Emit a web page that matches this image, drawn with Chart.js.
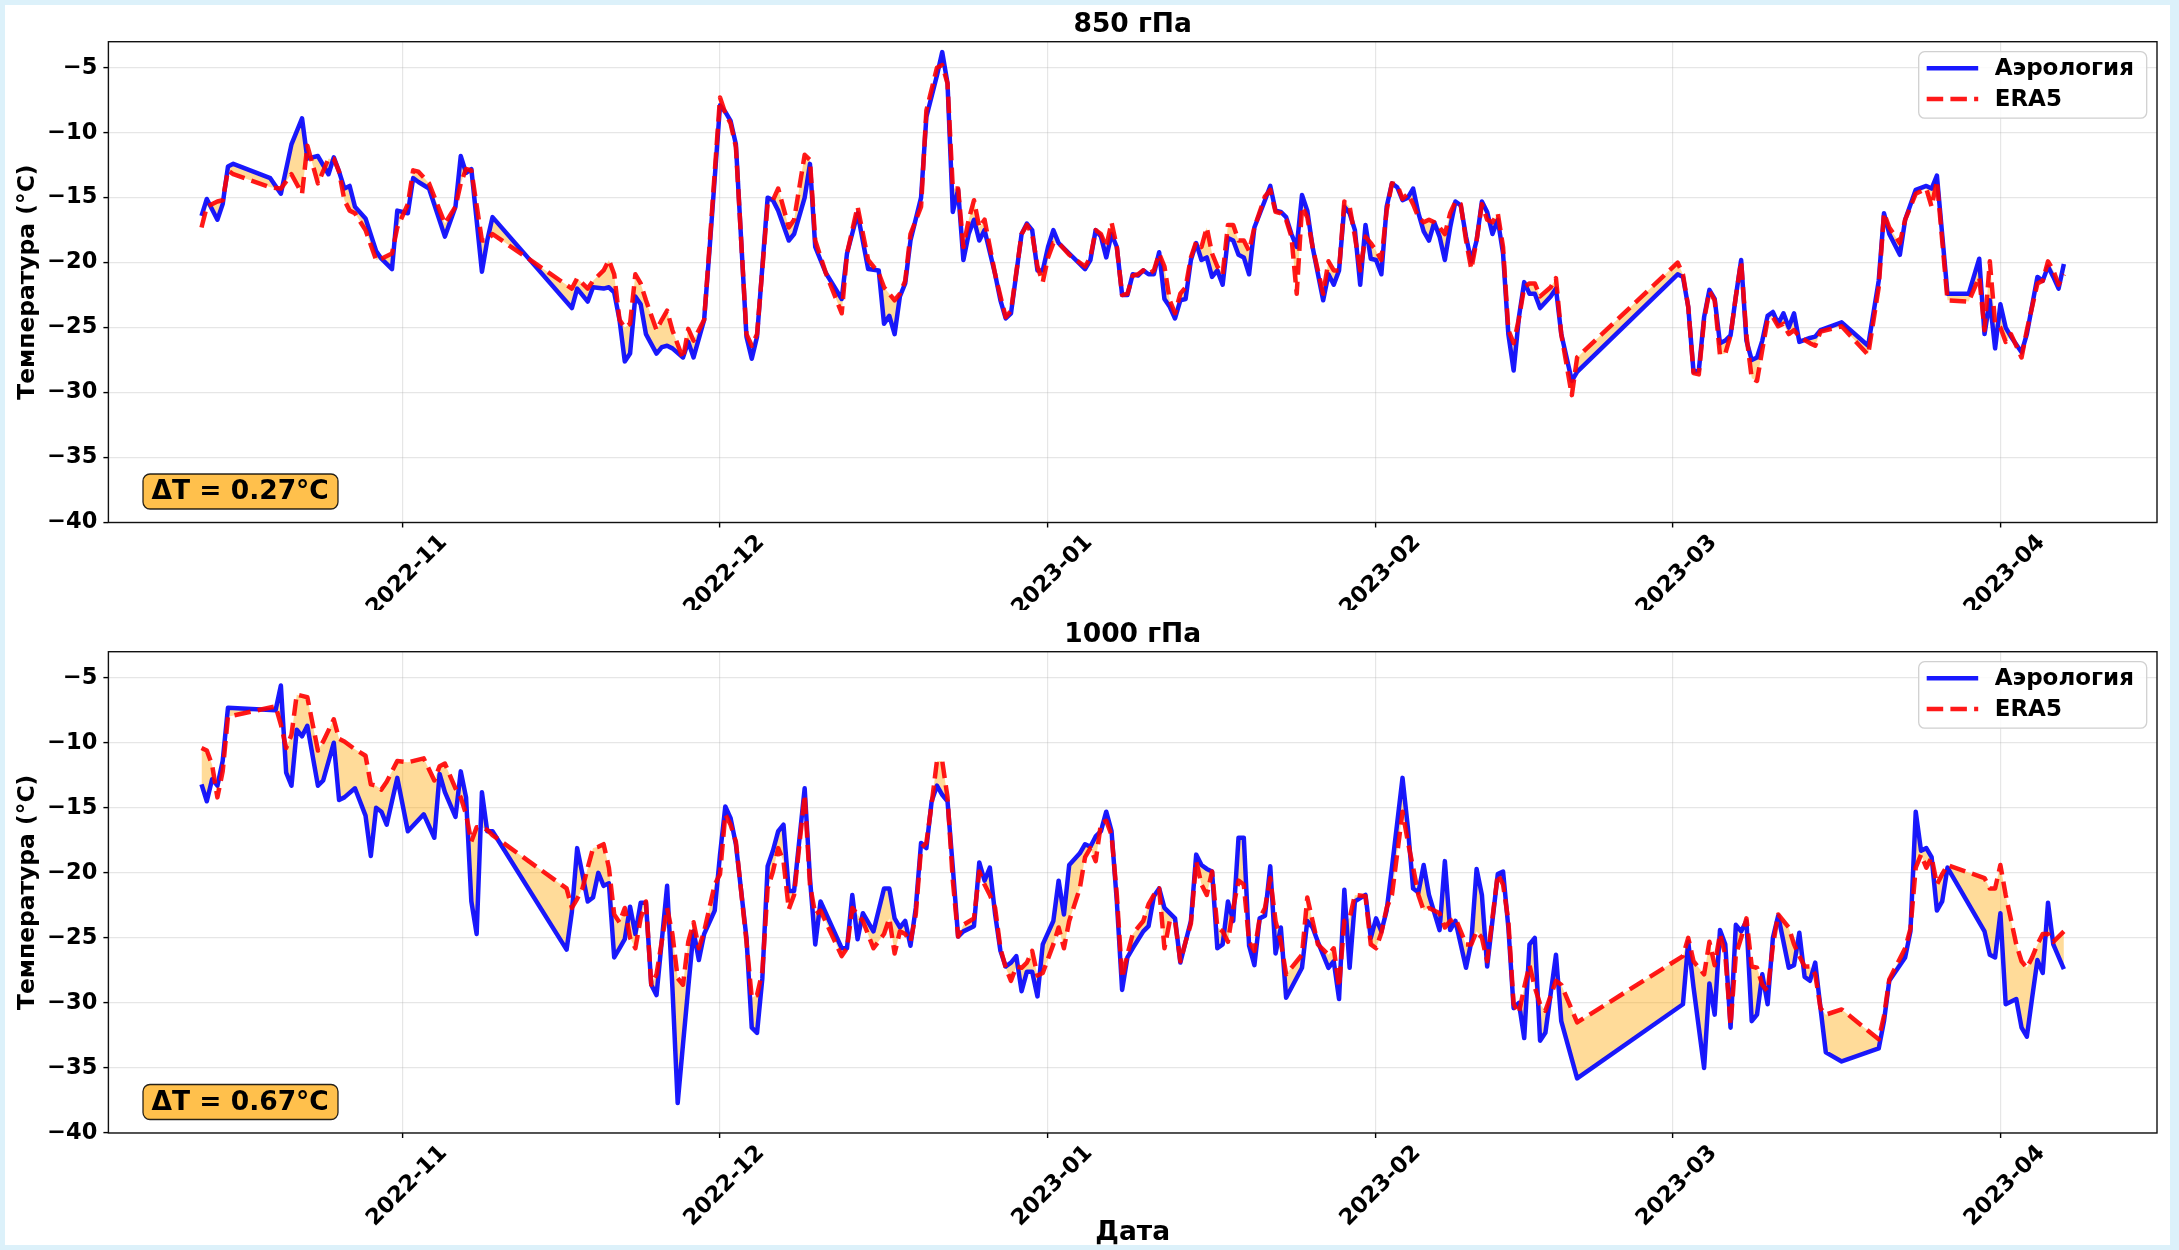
<!DOCTYPE html>
<html lang="ru">
<head>
<meta charset="utf-8">
<title>850 гПа / 1000 гПа</title>
<script src="https://cdn.jsdelivr.net/npm/chart.js@4.4.0/dist/chart.umd.min.js"></script>
<style>
  html, body { margin: 0; padding: 0; background: #dcf1fa; }
  body { width: 2179px; height: 1250px; position: relative; overflow: hidden; }
  #card { position: absolute; left: 5px; top: 5px; width: 2165px; height: 1240px; background: #ffffff; }
  canvas { position: absolute; left: 0; }
  #c850 { top: 0; }
  #c1000 { top: 610px; }
</style>
</head>
<body>
<div id="card"></div>
<canvas id="c850" width="2179" height="610" style="width:2179px;height:610px"></canvas>
<canvas id="c1000" width="2179" height="640" style="width:2179px;height:640px"></canvas>
<script>
// Time axis: days counted from 2022-11-01 00 UTC (soundings every 12 h)
const monthTicks  = [0, 30, 61, 92, 120, 151];
const monthLabels = ['2022-11', '2022-12', '2023-01', '2023-02', '2023-03', '2023-04'];
const tempTicks   = [-40, -35, -30, -25, -20, -15, -10, -5];

// ---- 850 hPa ----
const days850 = [
  -19,-18.5,-17.5,-17,-16.5,-16,-12.5,-11.5,-10.5,-9.5,
  -9,-8,-7,-6.5,-6,-5.5,-5,-4.5,-3.5,-2.5,
  -2,-1,-0.5,0.5,1,1.5,2.5,4,5,5.5,
  6,6.5,7.5,8,8.5,16,16.5,17.5,18,19,
  19.5,20,20.5,21,21.5,22,22.5,23,24,24.5,
  25,25.5,26.5,27,27.5,28.5,29,30,30.5,31,
  31.5,32.5,33,33.5,34.5,35,35.5,36.5,37,38,
  38.5,39,40,41.5,42,43,44,45,45.5,46,
  46.5,47,47.5,48,49,49.5,50.5,51,51.5,52,
  52.5,53,53.5,54,54.5,55,56,56.5,57,57.5,
  58.5,59,59.5,60,60.5,61,61.5,62,63,64.5,
  65,65.5,66,66.5,67,67.5,68,68.5,69,69.5,
  70,70.5,71,71.5,72,72.5,73,73.5,74,74.5,
  75,75.5,76,76.5,77,77.5,78,78.5,79,79.5,
  80,80.5,81.5,82,82.5,83,83.5,84,84.5,85,
  85.5,86,87,87.5,88,88.5,89,89.5,90,90.5,
  91,91.5,92,92.5,93,93.5,94,94.5,95,95.5,
  96,96.5,97,97.5,98,98.5,99,99.5,100,100.5,
  101,101.5,102,102.5,103,103.5,104,104.5,105,105.5,
  106,106.5,107,107.5,108.5,109,109.5,110.5,111,120.5,
  121,121.5,122,122.5,123,123.5,124,124.5,125,125.5,
  126,126.5,127,127.5,128,128.5,129,129.5,130,130.5,
  131,131.5,132,133,133.5,134,136,138.5,139.5,140,
  140.5,141.5,142,143,144,144.5,145,146,148,149,
  149.5,150,150.5,151,151.5,152,153,153.5,154.5,155,
  155.5,156,156.5,157
];
const aero850 = [
  -16.4,-15.1,-16.7,-15.5,-12.6,-12.4,-13.5,-14.7,-10.9,-8.9,
  -12.0,-11.8,-13.2,-11.9,-13.0,-14.3,-14.1,-15.7,-16.6,-19.1,
  -19.7,-20.5,-16.0,-16.2,-13.5,-13.8,-14.3,-18.0,-15.7,-11.8,
  -13.1,-12.8,-20.7,-18.3,-16.5,-23.5,-22.0,-23.0,-21.9,-22.0,
  -21.9,-22.3,-24.4,-27.6,-27.0,-22.6,-23.2,-25.5,-27.0,-26.5,
  -26.4,-26.6,-27.3,-26.1,-27.3,-24.4,-19.1,-7.9,-8.4,-9.1,
  -10.9,-25.7,-27.4,-25.7,-15.0,-15.2,-16.0,-18.3,-17.8,-15.0,
  -12.4,-18.8,-20.8,-22.8,-19.3,-16.2,-20.5,-20.6,-24.7,-24.1,
  -25.5,-22.6,-21.6,-18.3,-15.0,-8.8,-5.6,-3.8,-6.2,-16.1,
  -14.4,-19.8,-17.8,-16.7,-18.3,-17.5,-20.9,-22.9,-24.3,-23.9,
  -17.8,-17.0,-17.5,-20.6,-20.6,-18.8,-17.5,-18.5,-19.3,-20.5,
  -19.8,-17.5,-18.0,-19.6,-17.8,-18.8,-22.5,-22.5,-20.9,-21.0,
  -20.6,-20.9,-20.9,-19.2,-22.8,-23.4,-24.3,-22.9,-22.8,-19.8,
  -18.5,-19.8,-19.6,-21.1,-20.6,-21.7,-18.1,-18.3,-19.4,-19.6,
  -20.9,-17.3,-15.2,-14.1,-16.0,-16.1,-16.5,-17.8,-18.8,-14.8,
  -16.0,-18.8,-22.9,-20.9,-21.7,-20.6,-15.7,-16.2,-17.5,-21.7,
  -17.1,-19.7,-19.8,-20.9,-15.7,-13.9,-14.2,-15.2,-15.0,-14.3,
  -16.2,-17.6,-18.3,-16.9,-18.0,-19.8,-17.3,-15.3,-15.6,-18.0,
  -19.9,-18.3,-15.3,-16.1,-17.8,-16.7,-19.3,-25.5,-28.3,-24.2,
  -21.5,-22.4,-22.4,-23.5,-22.6,-22.0,-25.5,-29.1,-28.4,-20.9,
  -21.1,-23.4,-28.4,-28.3,-24.2,-22.1,-22.8,-26.2,-26.0,-25.6,
  -22.6,-19.8,-26.0,-27.5,-27.3,-26.0,-24.1,-23.8,-24.7,-23.9,
  -25.0,-23.9,-26.1,-25.8,-25.7,-25.2,-24.6,-26.4,-21.4,-16.2,
  -17.8,-19.4,-16.7,-14.4,-14.1,-14.3,-13.3,-22.4,-22.4,-19.7,
  -25.5,-22.9,-26.6,-23.2,-25.0,-25.7,-26.9,-25.5,-21.1,-21.4,
  -20.3,-21.1,-22.0,-20.1
];
const era850 = [
  -17.3,-15.7,-15.3,-15.2,-12.9,-13.2,-14.2,-14.3,-13.2,-14.7,
  -11.0,-13.9,-12.0,-12.0,-13.0,-15.2,-16.0,-16.2,-17.5,-19.8,
  -19.7,-19.3,-17.3,-15.5,-12.9,-13.0,-13.9,-17.0,-15.7,-13.9,
  -12.8,-12.9,-18.3,-18.3,-17.8,-22.0,-21.2,-22.0,-21.4,-20.6,
  -19.8,-20.9,-24.4,-25.0,-24.7,-20.9,-21.6,-22.9,-25.2,-24.4,
  -23.7,-25.2,-27.4,-25.1,-26.0,-24.4,-18.8,-7.3,-8.5,-9.3,
  -11.1,-25.5,-26.4,-25.5,-15.5,-15.2,-14.3,-17.3,-16.7,-11.7,
  -12.1,-18.3,-20.8,-23.9,-19.3,-15.7,-19.8,-20.8,-21.9,-22.4,
  -22.9,-22.4,-21.4,-17.8,-15.7,-8.3,-5.0,-4.8,-6.2,-14.3,
  -14.3,-18.8,-16.7,-15.2,-17.3,-16.7,-20.9,-22.6,-24.2,-23.7,
  -17.8,-17.1,-17.8,-20.3,-21.5,-19.6,-18.5,-18.5,-19.4,-20.3,
  -19.6,-17.5,-17.8,-18.8,-16.9,-18.8,-22.5,-22.4,-21.0,-20.9,
  -20.6,-20.9,-20.6,-19.3,-20.3,-22.9,-23.9,-22.4,-21.9,-19.6,
  -18.4,-18.8,-17.3,-19.3,-20.3,-20.9,-17.1,-17.1,-18.3,-18.3,
  -19.1,-17.3,-14.9,-14.4,-16.1,-16.2,-16.7,-18.0,-22.4,-15.7,
  -16.5,-18.8,-22.4,-19.9,-20.6,-20.6,-15.3,-15.7,-18.0,-20.6,
  -18.0,-18.5,-19.1,-19.8,-16.0,-13.9,-14.0,-15.1,-14.7,-15.5,
  -16.5,-16.9,-16.7,-16.9,-17.3,-17.8,-16.2,-15.3,-15.5,-18.3,
  -20.5,-18.3,-15.5,-16.7,-16.9,-16.2,-18.8,-25.2,-26.2,-24.3,
  -21.9,-21.6,-21.6,-22.6,-21.9,-21.2,-25.5,-30.2,-27.3,-20.0,
  -20.9,-23.4,-28.5,-28.6,-24.4,-22.2,-22.9,-27.1,-27.0,-25.6,
  -22.6,-19.9,-25.6,-28.9,-29.1,-26.7,-24.4,-24.2,-24.9,-24.7,
  -25.5,-25.2,-25.7,-26.2,-26.4,-25.3,-24.9,-27.1,-21.9,-16.2,
  -17.3,-18.5,-16.7,-14.7,-14.3,-15.7,-13.7,-22.9,-23.0,-21.1,
  -25.2,-19.9,-24.7,-25.0,-26.1,-25.5,-27.3,-25.2,-21.6,-21.4,
  -19.9,-20.6,-21.7,-20.9
];

// ---- 1000 hPa ----
const days1000 = [
  -19,-18.5,-18,-17.5,-17,-16.5,-12,-11.5,-11,-10.5,
  -10,-9.5,-9,-8,-7.5,-6.5,-6,-5.5,-4.5,-3.5,
  -3,-2.5,-2,-1.5,-0.5,0.5,2,3,3.5,4,
  5,5.5,6,6.5,7,7.5,8,8.5,15.5,16,
  16.5,17,17.5,18,18.5,19,19.5,20,20.5,21,
  21.5,22,22.5,23,23.5,24,25,25.5,26,26.5,
  27,27.5,28,28.5,29.5,30,30.5,31,31.5,32.5,
  33,33.5,34,34.5,35,35.5,36,36.5,37,38,
  38.5,39,39.5,41.5,42,42.5,43,43.5,44.5,45.5,
  46,46.5,47,47.5,48,48.5,49,49.5,50,50.5,
  51,51.5,52,52.5,53,54,54.5,55,55.5,56,
  56.5,57,57.5,58,58.5,59,59.5,60,60.5,61.5,
  62,62.5,63,64,64.5,65,65.5,66,66.5,67,
  67.5,68,68.5,69,70,70.5,71,71.5,72,72.5,
  73,73.5,74,74.5,75,75.5,76,76.5,77,77.5,
  78,78.5,79,79.5,80,80.5,81,81.5,82,82.5,
  83,83.5,85,85.5,86,86.5,87.5,88,88.5,89,
  89.5,90,91,91.5,92,92.5,93,93.5,94.5,95,
  95.5,96,96.5,97,98,98.5,99,99.5,100.5,101,
  101.5,102,102.5,103.5,104,104.5,105,105.5,106,106.5,
  107,107.5,108,109,109.5,111,121,121.5,122,123,
  123.5,124,124.5,125,125.5,126,126.5,127,127.5,128,
  128.5,129,129.5,130,131,131.5,132,132.5,133,133.5,
  134,134.5,136,139.5,140,140.5,142,142.5,143,143.5,
  144,144.5,145,145.5,146,149.5,150,150.5,151,151.5,
  152.5,153,153.5,154,154.5,155,155.5,156,157
];
const aero1000 = [
  -13.2,-14.5,-12.8,-13.3,-11.4,-7.3,-7.5,-5.6,-12.3,-13.3,
  -9.0,-9.5,-8.7,-13.3,-12.9,-10.0,-14.4,-14.2,-13.5,-15.6,
  -18.7,-15.0,-15.3,-16.3,-12.7,-16.8,-15.5,-17.3,-12.4,-13.8,
  -15.7,-12.2,-14.2,-22.2,-24.7,-13.8,-16.8,-16.8,-25.9,-23.0,
  -18.1,-20.1,-22.2,-21.9,-20.0,-21.0,-20.8,-26.5,-25.8,-25.1,
  -22.6,-24.7,-22.3,-22.3,-28.6,-29.4,-21.0,-28.8,-37.7,-33.2,
  -28.8,-24.5,-26.7,-24.7,-22.9,-18.6,-14.9,-15.8,-17.8,-25.0,
  -31.9,-32.3,-28.1,-19.5,-18.3,-16.8,-16.3,-21.4,-21.4,-13.5,
  -20.4,-25.5,-22.2,-25.8,-25.8,-21.7,-25.1,-23.1,-24.5,-21.2,
  -21.2,-23.5,-24.2,-23.7,-25.6,-22.7,-17.7,-18.1,-14.5,-13.3,
  -14.0,-14.5,-19.6,-24.9,-24.5,-24.1,-19.2,-20.6,-19.6,-23.2,
  -26.0,-27.2,-26.9,-26.4,-29.1,-27.6,-27.6,-29.5,-25.5,-23.7,
  -20.6,-23.2,-19.4,-18.5,-17.8,-18.0,-17.2,-16.8,-15.3,-16.8,
  -22.2,-29.0,-26.5,-25.8,-24.5,-24.1,-21.8,-21.2,-22.7,-23.1,
  -23.5,-26.9,-25.3,-23.7,-18.6,-19.4,-19.7,-19.9,-25.8,-25.5,
  -22.2,-23.7,-17.3,-17.3,-25.6,-27.1,-23.5,-23.3,-19.5,-26.2,
  -24.2,-29.6,-27.3,-23.7,-24.2,-25.3,-27.3,-26.8,-29.7,-21.3,
  -27.3,-22.2,-21.7,-25.0,-23.5,-24.5,-22.9,-19.6,-12.7,-16.5,
  -21.2,-21.5,-19.4,-21.7,-24.4,-19.1,-24.4,-23.7,-27.3,-25.3,
  -19.7,-21.7,-27.2,-20.1,-19.9,-24.2,-30.4,-30.0,-32.7,-25.5,
  -25.0,-32.9,-32.3,-26.3,-31.4,-35.8,-30.1,-25.3,-28.8,-35.0,
  -28.5,-30.9,-24.4,-25.5,-31.9,-24.0,-24.5,-23.7,-31.4,-30.9,
  -27.8,-30.1,-25.0,-23.3,-27.3,-27.1,-24.6,-28.0,-28.3,-26.9,
  -30.4,-33.8,-34.5,-33.5,-31.4,-28.3,-26.5,-24.5,-15.3,-18.3,
  -18.1,-18.8,-22.9,-22.2,-19.6,-24.5,-26.3,-26.5,-23.1,-30.1,
  -29.7,-31.9,-32.6,-29.6,-26.7,-27.7,-22.3,-25.5,-27.4
];
const era1000 = [
  -10.4,-10.6,-11.7,-14.2,-12.2,-8.0,-7.2,-8.6,-10.4,-9.4,
  -6.3,-6.4,-6.5,-10.6,-9.9,-8.2,-9.7,-9.9,-10.5,-11.0,
  -13.2,-13.3,-13.6,-13.0,-11.4,-11.5,-11.2,-12.9,-11.8,-11.6,
  -13.5,-14.2,-15.5,-17.6,-16.5,-16.5,-16.7,-17.1,-21.2,-22.7,
  -22.0,-21.2,-19.6,-18.1,-18.0,-17.8,-19.6,-23.2,-23.8,-22.7,
  -25.0,-25.8,-23.5,-22.2,-28.6,-27.8,-22.7,-24.7,-28.1,-28.6,
  -25.3,-23.8,-25.8,-24.5,-20.9,-20.1,-15.5,-16.3,-17.6,-25.3,
  -29.6,-29.4,-27.6,-21.2,-19.9,-18.1,-19.1,-22.8,-21.7,-14.0,
  -20.9,-23.2,-22.9,-26.4,-25.8,-22.7,-23.2,-23.7,-25.8,-24.7,
  -23.5,-26.2,-24.5,-24.7,-25.3,-23.2,-18.1,-17.7,-14.7,-11.4,
  -11.4,-14.2,-20.6,-24.9,-24.0,-23.5,-19.9,-20.9,-21.7,-22.7,
  -25.8,-27.3,-28.3,-27.2,-27.3,-26.9,-26.0,-27.9,-27.7,-25.5,
  -24.2,-25.8,-23.7,-21.2,-18.8,-18.1,-19.1,-16.2,-16.0,-17.1,
  -21.7,-28.1,-26.3,-24.7,-23.7,-22.4,-21.7,-21.2,-25.8,-23.7,
  -23.7,-26.8,-25.3,-23.9,-19.1,-20.9,-21.7,-19.9,-24.2,-24.5,
  -25.3,-22.7,-20.6,-20.9,-25.3,-26.0,-23.5,-22.7,-20.4,-23.7,
  -25.3,-27.8,-26.3,-21.9,-23.7,-25.5,-26.3,-25.8,-28.8,-23.7,
  -23.5,-21.7,-21.8,-25.5,-25.8,-24.6,-22.7,-21.7,-15.3,-17.6,
  -19.6,-21.7,-22.9,-22.7,-23.1,-24.2,-23.7,-23.5,-25.5,-25.5,
  -24.5,-25.0,-26.8,-20.1,-20.9,-23.7,-30.1,-30.8,-28.8,-27.1,
  -28.8,-30.1,-30.6,-28.3,-28.6,-31.5,-26.4,-25.0,-26.8,-27.8,
  -25.3,-27.1,-24.7,-26.3,-31.7,-26.3,-25.0,-23.5,-27.2,-27.3,
  -28.6,-29.1,-25.6,-23.2,-24.2,-25.5,-26.4,-27.2,-27.2,-27.8,
  -30.4,-30.9,-30.5,-32.8,-31.0,-28.2,-25.8,-24.3,-19.6,-18.6,
  -19.6,-18.8,-20.9,-20.1,-19.4,-20.4,-21.2,-21.2,-19.4,-21.7,
  -25.5,-26.8,-27.3,-26.5,-25.5,-24.7,-24.7,-25.3,-24.5
];

// Mean temperature difference shown in each panel
const deltaT850 = '0.27';
const deltaT1000 = '0.67';

[[days850, aero850, era850], [days1000, aero1000, era1000]].forEach(([d, a, e]) => {
  if (d.length !== a.length || d.length !== e.length) {
    throw new Error('series length mismatch: ' + d.length + ' / ' + a.length + ' / ' + e.length);
  }
});

const FONT = "'DejaVu Sans', 'Liberation Sans', sans-serif";
const GRID = 'rgba(176,176,176,0.32)';
const X_MIN = -27.8, X_MAX = 165.8;
const Y_MIN = -40, Y_MAX = -3;

function roundRectPath(ctx, x, y, w, h, r) {
  ctx.beginPath();
  ctx.moveTo(x + r, y);
  ctx.lineTo(x + w - r, y);
  ctx.arcTo(x + w, y, x + w, y + r, r);
  ctx.lineTo(x + w, y + h - r);
  ctx.arcTo(x + w, y + h, x + w - r, y + h, r);
  ctx.lineTo(x + r, y + h);
  ctx.arcTo(x, y + h, x, y + h - r, r);
  ctx.lineTo(x, y + r);
  ctx.arcTo(x, y, x + r, y, r);
  ctx.closePath();
}

// Black frame around the plotting area (drawn over the lines)
const framePlugin = {
  id: 'frame',
  afterDatasetsDraw(chart) {
    const { ctx, chartArea: a } = chart;
    ctx.save();
    ctx.strokeStyle = '#111';
    ctx.lineWidth = 1.4;
    ctx.strokeRect(a.left, a.top, a.right - a.left, a.bottom - a.top);
    ctx.restore();
  }
};

// Legend box in the upper right corner of the plotting area
const legendPlugin = {
  id: 'boxLegend',
  afterDraw(chart) {
    const { ctx, chartArea: a } = chart;
    const w = 228, h = 66.5;
    const x = a.right - 10.3 - w, y = a.top + 10;
    ctx.save();
    roundRectPath(ctx, x, y, w, h, 6);
    ctx.fillStyle = 'rgba(255,255,255,0.85)';
    ctx.fill();
    ctx.strokeStyle = '#d0d0d0';
    ctx.lineWidth = 1.3;
    ctx.stroke();
    const order = [chart.data.datasets[1], chart.data.datasets[0]];
    order.forEach((ds, i) => {
      const cy = y + 16.6 + i * 30.7;
      ctx.beginPath();
      ctx.moveTo(x + 8, cy);
      ctx.lineTo(x + 59.5, cy);
      ctx.strokeStyle = ds.borderColor;
      ctx.lineWidth = ds.borderWidth;
      ctx.lineCap = 'butt';
      ctx.setLineDash(ds.borderDash || []);
      ctx.stroke();
      ctx.setLineDash([]);
      ctx.fillStyle = '#000';
      ctx.font = 'bold 23px ' + FONT;
      ctx.textAlign = 'left';
      ctx.textBaseline = 'middle';
      ctx.fillText(ds.label, x + 76, cy + 1);
    });
    ctx.restore();
  }
};

// ΔT badge in the lower left corner of the plotting area
const deltaPlugin = {
  id: 'deltaBadge',
  afterDraw(chart) {
    const { ctx, chartArea: a } = chart;
    const text = chart.options.plugins.deltaBadge.text;
    const x = a.left + 34.6, y = a.bottom - 48.5, w = 195, h = 35;
    ctx.save();
    roundRectPath(ctx, x, y, w, h, 7);
    ctx.fillStyle = 'rgba(255,165,0,0.7)';
    ctx.fill();
    ctx.strokeStyle = 'rgba(0,0,0,0.85)';
    ctx.lineWidth = 1.3;
    ctx.stroke();
    ctx.fillStyle = '#000';
    ctx.font = 'bold 26.5px ' + FONT;
    ctx.textAlign = 'left';
    ctx.textBaseline = 'middle';
    ctx.fillText(text, x + 8.5, y + h / 2 + 1);
    ctx.restore();
  }
};

function buildChart(canvasId, cfg) {
  const aero = cfg.days.map((d, i) => ({ x: d, y: cfg.aero[i] }));
  const era = cfg.days.map((d, i) => ({ x: d, y: cfg.era[i] }));
  const tickFont = { family: FONT, size: 22.5, weight: 'bold' };
  return new Chart(document.getElementById(canvasId), {
    type: 'line',
    data: {
      datasets: [
        {
          label: 'ERA5',
          data: era,
          borderColor: 'rgba(255,0,0,0.9)',
          borderWidth: 4.5,
          borderDash: [16.5, 7.2],
          borderJoinStyle: 'round',
          pointRadius: 0,
          tension: 0,
          fill: { target: 1 },
          backgroundColor: 'rgba(255,165,0,0.4)'
        },
        {
          label: 'Аэрология',
          data: aero,
          borderColor: 'rgba(0,0,255,0.9)',
          borderWidth: 4.5,
          borderJoinStyle: 'round',
          pointRadius: 0,
          tension: 0,
          fill: false
        }
      ]
    },
    options: {
      responsive: false,
      animation: false,
      devicePixelRatio: 1,
      events: [],
      layout: { padding: { left: 0, right: 22, top: 0, bottom: 0 } },
      plugins: {
        legend: { display: false },
        tooltip: { enabled: false },
        filler: { drawTime: 'beforeDatasetsDraw', propagate: false },
        title: {
          display: true,
          fullSize: false,
          text: cfg.title,
          color: '#000',
          font: { family: FONT, size: 26.5, weight: 'bold' },
          padding: { top: 9.1, bottom: 0.8 }
        },
        deltaBadge: { text: 'ΔT = ' + cfg.delta + '°C' }
      },
      scales: {
        x: {
          type: 'linear',
          min: X_MIN,
          max: X_MAX,
          afterBuildTicks: (s) => { s.ticks = monthTicks.map((v) => ({ value: v })); },
          afterFit: (s) => { s.height = cfg.xAxisHeight; },
          ticks: {
            autoSkip: false,
            minRotation: 45,
            maxRotation: 45,
            labelOffset: 41,
            padding: 2,
            color: '#000',
            font: tickFont,
            callback: (v) => monthLabels[monthTicks.indexOf(v)]
          },
          grid: { color: GRID, lineWidth: 1.2, tickLength: 5, tickColor: '#000', tickWidth: 1.4 },
          border: { display: false },
          title: cfg.xTitle
            ? { display: true, text: cfg.xTitle, color: '#000', font: { family: FONT, size: 26.5, weight: 'bold' }, padding: { top: 0, bottom: 1.1 } }
            : { display: false }
        },
        y: {
          type: 'linear',
          min: Y_MIN,
          max: Y_MAX,
          afterBuildTicks: (s) => { s.ticks = tempTicks.map((v) => ({ value: v })); },
          afterFit: (s) => { s.width = 108.4; },
          ticks: {
            padding: 6,
            color: '#000',
            font: tickFont,
            callback: (v) => (v < 0 ? '\u2212' + Math.abs(v) : String(v))
          },
          grid: { color: GRID, lineWidth: 1.2, tickLength: 5, tickColor: '#000', tickWidth: 1.4 },
          border: { display: false },
          title: {
            display: true,
            text: 'Температура (°C)',
            color: '#000',
            font: { family: FONT, size: 23.4, weight: 'bold' },
            padding: { top: 14, bottom: 0 }
          }
        }
      }
    },
    plugins: [framePlugin, legendPlugin, deltaPlugin]
  });
}

buildChart('c850', {
  title: '850 гПа', days: days850, aero: aero850, era: era850,
  delta: deltaT850, xAxisHeight: 87.5, xTitle: null
});
buildChart('c1000', {
  title: '1000 гПа', days: days1000, aero: aero1000, era: era1000,
  delta: deltaT1000, xAxisHeight: 117, xTitle: 'Дата'
});
</script>
</body>
</html>
